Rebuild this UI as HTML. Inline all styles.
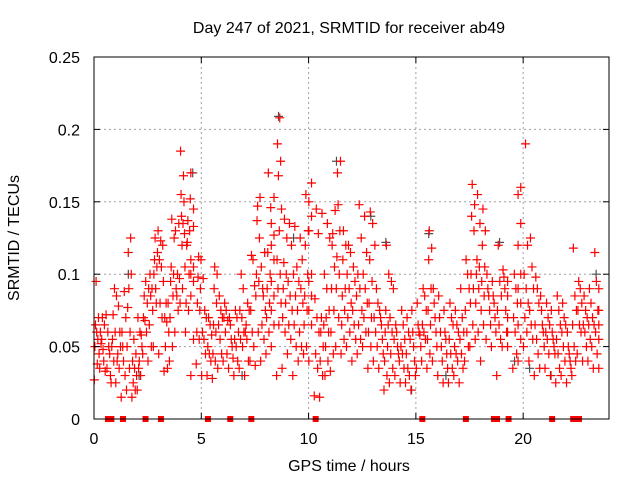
<!DOCTYPE html>
<html><head><meta charset="utf-8"><style>
body{margin:0;background:#fff}
svg{display:block;font-family:"Liberation Sans",sans-serif}
</style></head><body>
<svg id="c" width="640" height="480">
<rect width="640" height="480" fill="#fff"/>
<text x="349" y="33" font-size="16" text-anchor="middle">Day 247 of 2021, SRMTID for receiver ab49</text>
<text x="349" y="471" font-size="16" text-anchor="middle">GPS time / hours</text>
<text transform="translate(19,238) rotate(-90)" font-size="16" text-anchor="middle">SRMTID / TECUs</text>
<g id="grid"></g><g id="grey"></g><g id="red"></g><g id="axes"></g>
</svg>
<script>
const xTicks=[0,5,10,15,20];
const yTicks=[0,0.05,0.1,0.15,0.2,0.25];
const yTickLabels=["0","0.05","0.1","0.15","0.2","0.25"];
const binStarts=[];for(let i=0;i<95;i++)binStarts.push(i*0.25);
const binValues=[
[.027,.038,.05,.055,.065,.07,.095,.045,.06],[.035,.048,.052,.065,.07,.06,.04,.055],[.033,.045,.05,.06,.035,.072],[.03,.04,.05,.06,.072,.025,.09,.055],
[.025,.035,.04,.05,.078,.085,.06,.045],[.015,.03,.04,.06,.07,.088,.05],[.02,.035,.05,.06,.077,.125,.115,.1,.09],[.015,.02,.025,.03,.035,.04,.045,.055],
[.02,.03,.035,.05,.06,.07,.058,.04],[.045,.06,.068,.07,.08,.095,.085],[.04,.05,.065,.075,.085,.09,.09,.1],[.05,.08,.1,.105,.11,.115,.125,.13,.09],
[.045,.07,.08,.095,.105,.11,.12,.123],[.033,.035,.05,.06,.067,.07,.08,.08],[.04,.05,.07,.085,.095,.1,.105,.125,.138],[.06,.075,.09,.097,.1,.13,.135,.085],
[.08,.09,.105,.12,.128,.14,.15,.155,.168,.185,.135],[.06,.075,.08,.1,.12,.13,.122,.152,.137],[.03,.055,.085,.095,.1,.105,.11,.145,.17,.133],[.038,.055,.06,.075,.08,.09,.098,.11,.112],
[.03,.045,.055,.06,.07,.075,.097],[.03,.04,.045,.05,.058,.065,.07],[.028,.04,.045,.06,.065,.08,.09,.1,.105],[.035,.045,.055,.065,.07,.075,.085],
[.04,.045,.06,.07,.068,.075,.08],[.035,.042,.05,.055,.065,.07],[.03,.04,.05,.055,.06,.07,.075],[.035,.05,.055,.06,.07,.075,.09,.1],
[.03,.04,.055,.06,.075,.08,.065],[.04,.05,.06,.075,.092,.11,.113],[.037,.06,.085,.095,.1,.125,.137,.153,.147],[.04,.055,.065,.075,.085,.105,.115,.09],
[.045,.06,.07,.08,.09,.1,.115,.146,.17],[.05,.065,.075,.085,.095,.11,.12,.127,.135,.153],[.03,.065,.08,.09,.1,.11,.13,.145,.168,.178,.19,.208],[.035,.06,.07,.08,.09,.1,.108,.125,.138],
[.045,.055,.065,.075,.085,.095,.12,.135],[.03,.05,.065,.075,.085,.1,.105,.133],[.04,.05,.06,.08,.09,.095,.11,.125],[.045,.05,.065,.075,.085,.1,.12,.13,.155],
[.04,.065,.075,.085,.095,.1,.13,.14,.15,.163],[.016,.035,.045,.06,.07,.083,.128,.145],[.015,.03,.04,.05,.06,.065,.07,.1,.142],[.03,.04,.05,.06,.07,.075,.09,.125,.135],
[.033,.045,.06,.075,.09,.105,.12,.144,.128],[.05,.07,.09,.1,.112,.13,.17,.178,.148],[.045,.055,.065,.075,.085,.09,.11,.12,.13],[.05,.06,.07,.08,.09,.1,.115,.12],
[.04,.055,.065,.075,.085,.095,.105],[.045,.055,.065,.075,.09,.1,.125,.148],[.05,.06,.07,.08,.09,.1,.115,.14],[.035,.05,.06,.07,.08,.095,.11,.135,.143],
[.04,.05,.06,.07,.08,.09,.12],[.035,.045,.055,.065,.07,.075],[.02,.03,.04,.05,.06,.065,.075,.1,.12],[.025,.035,.045,.055,.06,.07,.09,.095],
[.03,.04,.045,.05,.06,.065],[.025,.035,.045,.05,.055,.065,.075],[.025,.03,.035,.045,.055,.06,.07],[.02,.03,.04,.05,.06,.075],
[.035,.05,.058,.06,.065,.08],[.04,.055,.06,.065,.075,.085,.09],[.035,.045,.055,.065,.075,.09,.11,.118,.13],[.04,.05,.06,.07,.08,.09],
[.03,.04,.05,.06,.07,.085],[.025,.035,.045,.055,.06,.075],[.025,.035,.045,.055,.065,.07,.08],[.03,.04,.045,.05,.06,.065,.075],
[.025,.035,.045,.055,.06,.07,.09],[.04,.05,.06,.075,.09,.1,.11],[.05,.065,.08,.09,.1,.13,.14,.148,.162],[.055,.06,.08,.09,.1,.105,.11,.135,.155],
[.04,.065,.075,.085,.095,.105,.12,.13,.145],[.055,.065,.075,.085,.09,.1],[.05,.06,.07,.08,.085,.095],[.03,.055,.065,.075,.085,.095,.12],
[.05,.06,.075,.09,.098,.103],[.05,.06,.07,.085,.095],[.035,.045,.06,.07,.08,.09,.1],[.04,.055,.065,.08,.09,.1,.12,.135,.155,.16],
[.05,.06,.07,.08,.09,.1,.12,.19],[.04,.055,.065,.075,.09,.105,.125],[.03,.045,.055,.065,.08,.09,.098],[.035,.05,.06,.065,.075,.085],
[.035,.045,.055,.06,.065,.07,.08],[.03,.045,.05,.055,.06,.075],[.025,.035,.045,.055,.065,.075,.085],[.03,.04,.05,.06,.065,.07,.08],
[.025,.035,.04,.045,.05,.06],[.03,.04,.05,.065,.075,.085,.118],[.045,.06,.065,.075,.08,.09,.095],[.04,.05,.06,.065,.07,.075,.085],
[.04,.05,.055,.065,.07,.08,.09],[.035,.045,.06,.065,.075,.095,.115],[.035,.055,.065,.075,.09]
];
const greyTimes=[1.6,4.6,8.6,11.3,12.9,13.6,15.6,18.9,19.6,20.3,2.1,6.9,9.3,14.8,16.4,21.3,23.4];
const greyValues=[.1,.17,.209,.178,.14,.122,.128,.122,.04,.035,.03,.03,.125,.02,.03,.03,.1];
const missingTimes=[0.65,0.81,1.35,2.4,3.12,5.31,6.35,7.33,10.33,15.3,17.33,18.64,18.78,19.32,21.35,22.33,22.6];

const X0=94,X1=609,Y0=419,Y1=57;
const sx=t=>X0+(X1-X0)*t/24;
const sy=v=>Y0-(Y0-Y1)*v/0.25;
const NS="http://www.w3.org/2000/svg";
function mk(tag,attrs,parent){const e=document.createElementNS(NS,tag);for(const k in attrs)e.setAttribute(k,attrs[k]);parent.appendChild(e);return e;}
const grid=document.getElementById('grid'),axes=document.getElementById('axes');
xTicks.forEach(t=>{if(t>0){const l=mk('line',{x1:sx(t),x2:sx(t),y1:Y1,y2:Y0,stroke:'#a0a0a0','stroke-dasharray':'2,3'},grid);

}
const tx=mk('text',{x:sx(t),y:Y0+25,'font-size':16,'text-anchor':'middle'},axes);tx.textContent=t;


mk('line',{x1:sx(t),x2:sx(t),y1:Y0,y2:Y0-6,stroke:'#000'},axes);mk('line',{x1:sx(t),x2:sx(t),y1:Y1,y2:Y1+6,stroke:'#000'},axes);});
yTicks.forEach((v,i)=>{if(i>0&&i<yTicks.length-1){const l=mk('line',{x1:X0,x2:X1,y1:sy(v),y2:sy(v),stroke:'#a0a0a0','stroke-dasharray':'2,3'},grid);

}
const tx=mk('text',{x:X0-14,y:sy(v)+6,'font-size':16,'text-anchor':'end'},axes);tx.textContent=yTickLabels[i];


mk('line',{x1:X0,x2:X0+6,y1:sy(v),y2:sy(v),stroke:'#000'},axes);mk('line',{x1:X1,x2:X1-6,y1:sy(v),y2:sy(v),stroke:'#000'},axes);});
const fr=mk('rect',{x:X0,y:Y1,width:X1-X0,height:Y0-Y1,fill:'none',stroke:'#000'},axes);


function plus(x,y,col,g,name){const p=mk('path',{d:`M${x-4.5},${y}h9M${x},${y-4.5}v9`,stroke:col,'stroke-width':1.2,fill:'none'},g);

}
const grey=document.getElementById('grey'),red=document.getElementById('red');
greyTimes.forEach((t,i)=>plus(sx(t),sy(greyValues[i]),'#505050',grey,'grey-point'));
binValues.forEach((vals,b)=>{const n=vals.length;vals.forEach((v,i)=>{const t=binStarts[b]+0.25*(((i*5)%n)+0.5)/n;plus(sx(t),sy(v),'#ff0000',red,'red-point');});});
missingTimes.forEach(t=>{const r=mk('rect',{x:sx(t)-3,y:Y0-3,width:6,height:6,fill:'#ff0000'},red);

});
</script>
</body></html>
